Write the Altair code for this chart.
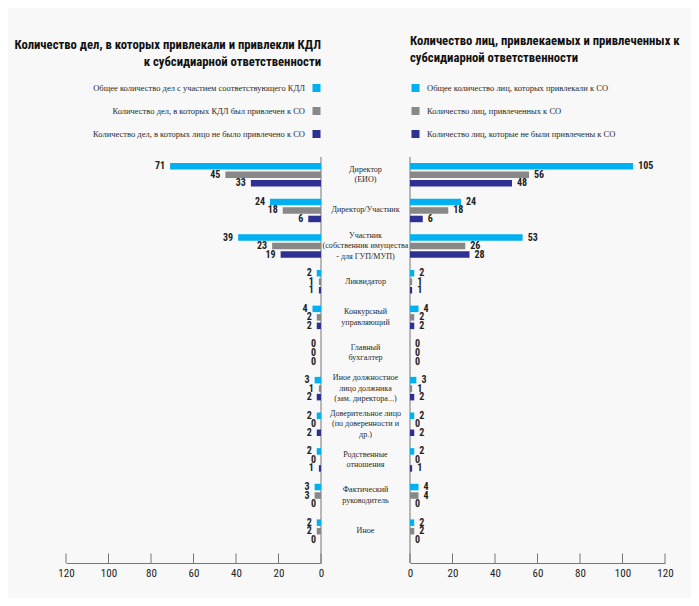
import altair as alt
import pandas as pd

categories = [
    "Директор\n(ЕИО)",
    "Директор/Участник",
    "Участник\n(собственник имущества\n- для ГУП/МУП)",
    "Ликвидатор",
    "Конкурсный\nуправляющий",
    "Главный\nбухгалтер",
    "Иное должностное\nлицо должника\n(зам. директора...)",
    "Доверительное лицо\n(по доверенности и\nдр.)",
    "Родственные\nотношения",
    "Фактический\nруководитель",
    "Иное",
]

# left panel: cases
left_total = [71, 24, 39, 2, 4, 0, 3, 2, 2, 3, 2]
left_attracted = [45, 18, 23, 1, 2, 0, 1, 0, 0, 3, 2]
left_not = [33, 6, 19, 1, 2, 0, 2, 2, 1, 0, 0]

# right panel: persons
right_total = [105, 24, 53, 2, 4, 0, 3, 2, 2, 4, 2]
right_attracted = [56, 18, 26, 1, 2, 0, 1, 0, 0, 4, 2]
right_not = [48, 6, 28, 1, 2, 0, 2, 2, 1, 0, 0]

series_keys = ["s1", "s2", "s3"]
series_colors = ["#00b0f0", "#888888", "#2e3192"]
left_legend = [
    "Общее количество дел с участием соответствующего КДЛ",
    "Количество дел, в которых КДЛ был привлечен к СО",
    "Количество дел, в которых лицо не было привлечено к СО",
]
right_legend = [
    "Общее количество лиц, которых привлекали к СО",
    "Количество лиц, привлеченных к СО",
    "Количество лиц, которые не были привлечены к СО",
]
left_title = "Количество дел, в которых привлекали и привлекли КДЛ\nк субсидиарной ответственности"
right_title = "Количество лиц, привлекаемых и привлеченных к\nсубсидиарной ответственности"
tick_values = [0, 20, 40, 60, 80, 100, 120]

COND = ("'Noto Sans ExtraCondensed', 'Noto Sans Condensed', 'Roboto Condensed', "
        "'DejaVu Sans Condensed', 'Liberation Sans Narrow', 'Arial Narrow', Roboto, sans-serif")
SERIF = "'Liberation Serif', 'DejaVu Serif', serif"

W, H = 599, 392
AX_OFF = 14
LH = 10.5


def long_df(series):
    rows = []
    for key, vals in zip(series_keys, series):
        for c, v in zip(categories, vals):
            rows.append({"cat": c, "key": key, "value": v})
    return pd.DataFrame(rows)


dfL = long_df([left_total, left_attracted, left_not])
dfR = long_df([right_total, right_attracted, right_not])
df_ticks = pd.DataFrame({"t": tick_values})
df_zero = pd.DataFrame({"z": [0]})
df_cats = pd.DataFrame({"cat": categories, "n": [c.count("\n") + 1 for c in categories]})
df_leg = pd.DataFrame({"key": series_keys, "ll": left_legend, "rl": right_legend})

left_scale = alt.Scale(domain=[0, 120], range=[255, 0], nice=False)
right_scale = alt.Scale(domain=[0, 120], range=[344, 599], nice=False)

Y = alt.Y("cat:N", scale=alt.Scale(domain=categories, paddingInner=0.34, paddingOuter=0.17), axis=None)
YO = alt.YOffset("key:N", scale=alt.Scale(domain=series_keys, paddingInner=0.235, paddingOuter=0))
C = alt.Color("key:N", scale=alt.Scale(domain=series_keys, range=series_colors), legend=None)


def axis():
    return alt.Axis(values=tick_values, orient="bottom", offset=AX_OFF, ticks=False, grid=False,
                    domainColor="#777777", labelFont=COND, labelFontSize=11, labelColor="#222222",
                    labelPadding=4, title=None, labelFlush=False)


layers = []
for df, sc, align, dx in [(dfL, left_scale, "right", -5), (dfR, right_scale, "left", 5)]:
    bars = alt.Chart(df).mark_bar().encode(
        x=alt.X("value:Q", scale=sc, axis=axis()), y=Y, yOffset=YO, color=C
    )
    labels = alt.Chart(df).mark_text(align=align, dx=dx, baseline="middle", font=COND,
                                     fontSize=10, fontWeight="bold", color="#222222").encode(
        x=alt.X("value:Q", scale=sc, axis=None), y=Y, yOffset=YO, text="value:Q"
    )
    ticks = alt.Chart(df_ticks).mark_rule(color="#777777").encode(
        x=alt.X("t:Q", scale=sc, axis=None), y=alt.value(H + AX_OFF - 9.5), y2=alt.value(H + AX_OFF)
    )
    zero = alt.Chart(df_zero).mark_rule(color="#777777").encode(
        x=alt.X("z:Q", scale=sc, axis=None), y=alt.value(0), y2=alt.value(H + AX_OFF)
    )
    layers += [zero, ticks, bars, labels]

for n in (1, 2, 3):
    mid = alt.Chart(df_cats).transform_filter(alt.datum.n == n).mark_text(
        font=SERIF, fontSize=8.1, lineBreak="\n", lineHeight=LH, align="center", baseline="middle",
        color="#2a2a2a", dy=-(n - 1) * LH / 2
    ).encode(x=alt.value(299.5), y=Y, text="cat:N")
    layers.append(mid)

legY = alt.Y("key:N", scale=alt.Scale(type="point", domain=series_keys, range=[-69, -23], padding=0), axis=None)
leg_sq_l = alt.Chart(df_leg).mark_square(size=64, opacity=1).encode(x=alt.value(250.5), y=legY, color=C)
leg_tx_l = alt.Chart(df_leg).mark_text(font=SERIF, fontSize=8.5, align="right", baseline="middle",
                                       color="#2a2a2a").encode(x=alt.value(239), y=legY, text="ll:N")
leg_sq_r = alt.Chart(df_leg).mark_square(size=64, opacity=1).encode(x=alt.value(349.5), y=legY, color=C)
leg_tx_r = alt.Chart(df_leg).mark_text(font=SERIF, fontSize=8.5, align="left", baseline="middle",
                                       color="#2a2a2a").encode(x=alt.value(361), y=legY, text="rl:N")
layers += [leg_sq_l, leg_tx_l, leg_sq_r, leg_tx_r]

t_left = alt.Chart(pd.DataFrame({"t": [left_title]})).mark_text(
    font=COND, fontSize=12.7, fontWeight="bold", lineBreak="\n", lineHeight=17, align="right",
    baseline="middle", color="#111111").encode(x=alt.value(255), y=alt.value(-112), text="t:N")
t_right = alt.Chart(pd.DataFrame({"t": [right_title]})).mark_text(
    font=COND, fontSize=12.7, fontWeight="bold", lineBreak="\n", lineHeight=17, align="left",
    baseline="middle", color="#111111").encode(x=alt.value(344), y=alt.value(-116.5), text="t:N")
layers += [t_left, t_right]

chart = alt.layer(*layers).resolve_scale(x="independent", y="independent").properties(
    width=W, height=H,
    autosize=alt.AutoSizeParams(type="none"),
    padding={"left": 58, "top": 149, "right": 26, "bottom": 49},
    background="#f8f8f8",
).configure_view(stroke=None)

chart.save("out.html", embed_options={"renderer": "svg", "actions": False})
